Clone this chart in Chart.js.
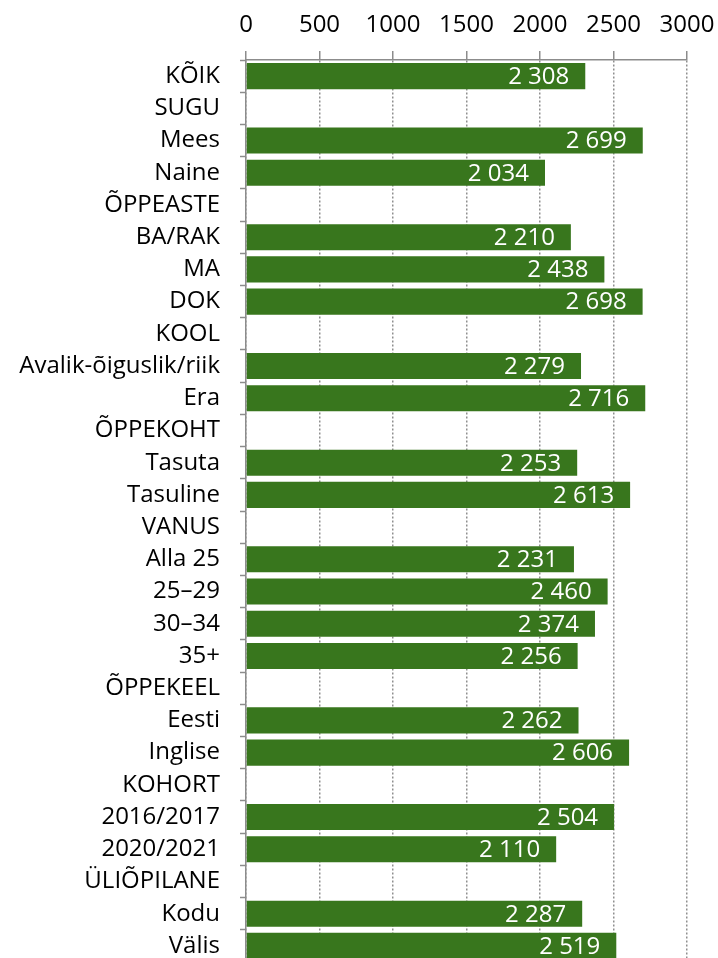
<!DOCTYPE html>
<html>
<head>
<meta charset="utf-8">
<script src="https://cdn.jsdelivr.net/npm/chart.js@4/dist/chart.umd.min.js"></script>
<style>
html,body{margin:0;padding:0;background:#fff;overflow:hidden;width:718px;height:958px;}
#wrap{width:718px;height:962px;}
</style>
</head>
<body>
<div id="wrap"><canvas id="c" width="718" height="962"></canvas></div>
<script>
const categories = ["KÕIK","SUGU","Mees","Naine","ÕPPEASTE","BA/RAK","MA","DOK","KOOL","Avalik-õiguslik/riik","Era","ÕPPEKOHT","Tasuta","Tasuline","VANUS","Alla 25","25–29","30–34","35+","ÕPPEKEEL","Eesti","Inglise","KOHORT","2016/2017","2020/2021","ÜLIÕPILANE","Kodu","Välis"];
const values = [2308,null,2699,2034,null,2210,2438,2698,null,2279,2716,null,2253,2613,null,2231,2460,2374,2256,null,2262,2606,null,2504,2110,null,2287,2519];
const xTicks = [0,500,1000,1500,2000,2500,3000];

const FONT = "'Open Sans', sans-serif";
function fmt(v){ return String(v).replace(/\B(?=(\d{3})+(?!\d))/g, " "); }

const valueLabels = {
  id: 'valueLabels',
  afterDatasetsDraw(chart){
    const ctx = chart.ctx;
    const meta = chart.getDatasetMeta(0);
    ctx.save();
    ctx.fillStyle = '#ffffff';
    ctx.font = "24px " + FONT;
    ctx.textAlign = 'right';
    ctx.textBaseline = 'middle';
    meta.data.forEach((bar, i) => {
      const v = values[i];
      if (v == null) return;
      ctx.fillText(fmt(v), bar.x - 16, bar.y + 1);
    });
    ctx.restore();
  }
};

function zeroPad(scale){
  scale.paddingLeft = 0; scale.paddingRight = 0; scale.paddingTop = 0; scale.paddingBottom = 0;
}

new Chart(document.getElementById('c'), {
  type: 'bar',
  data: {
    labels: categories,
    datasets: [{
      data: values,
      backgroundColor: '#38761D',
      borderWidth: 0,
      barPercentage: 0.81,
      categoryPercentage: 1.0
    }]
  },
  options: {
    indexAxis: 'y',
    responsive: false,
    animation: false,
    devicePixelRatio: 1,
    layout: { padding: { left: 0, right: 31, top: 0, bottom: 0 } },
    plugins: { legend: { display: false }, tooltip: { enabled: false } },
    scales: {
      x: {
        position: 'top',
        min: 0, max: 3000,
        afterBuildTicks(scale){ scale.ticks = xTicks.map(v => ({value: v})); },
        afterFit(scale){ scale.height = 60; zeroPad(scale); },
        ticks: { color: '#000', font: { family: FONT, size: 24 }, padding: 11, maxRotation: 0, callback: (v) => String(v) },
        grid: { color: '#8f8f8f', lineWidth: 1.5, tickLength: 9, tickColor: '#8c8c8c', tickWidth: 1.5 },
        border: { display: true, color: '#8c8c8c', width: 1.5, dash: [2, 2] }
      },
      y: {
        afterFit(scale){ scale.width = 246; zeroPad(scale); },
        ticks: { color: '#000', font: { family: FONT, size: 24 }, padding: 20, autoSkip: false },
        grid: { drawOnChartArea: false, drawTicks: true, tickLength: 6, color: '#8c8c8c', tickColor: '#8c8c8c', tickWidth: 1.5, offset: true },
        border: { display: true, color: '#8c8c8c', width: 1.5 }
      }
    }
  },
  plugins: [valueLabels]
});
</script>
</body>
</html>
